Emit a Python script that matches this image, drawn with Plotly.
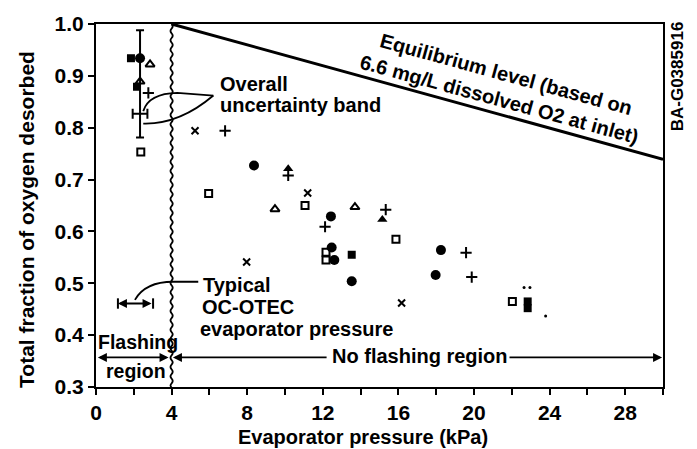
import plotly.graph_objects as go

# ---------------- data ----------------
circle_x = [2.33, 8.36, 12.43, 12.47, 12.61, 13.53, 18.25, 17.97]
circle_y = [0.934, 0.727, 0.629, 0.569, 0.545, 0.504, 0.564, 0.516]
fsquare_x = [1.85, 2.17, 13.53, 22.84, 22.84]
fsquare_y = [0.934, 0.879, 0.555, 0.465, 0.452]
osquare_x = [2.37, 5.96, 11.06, 15.87, 12.17, 12.17, 22.03]
osquare_y = [0.753, 0.673, 0.650, 0.585, 0.560, 0.545, 0.465]
otri_x = [2.86, 2.33, 9.47, 13.70]
otri_y = [0.922, 0.889, 0.643, 0.647]
ftri_x = [10.17, 15.15]
ftri_y = [0.721, 0.623]
plus_x = [2.77, 6.83, 10.17, 12.12, 15.33, 19.58, 19.88]
plus_y = [0.867, 0.794, 0.708, 0.609, 0.642, 0.559, 0.512]
cross_x = [5.24, 11.20, 7.97, 16.17]
cross_y = [0.794, 0.674, 0.541, 0.462]
dot_x = [22.65, 22.96, 23.79]
dot_y = [0.492, 0.492, 0.437]

# overall uncertainty band (error bars)
unc_x = [2.33]
unc_y = [0.827]
unc_plus = [0.161]
unc_minus = [0.046]
unc_dx = [0.39]

# equilibrium level line
equil_x = [4, 30]
equil_y = [1.0, 0.739]

x_ticks = [0, 4, 8, 12, 16, 20, 24, 28]
y_ticks = [0.3, 0.4, 0.5, 0.6, 0.7, 0.8, 0.9, 1.0]

FONT = "Liberation Sans, Arial, Helvetica, sans-serif"
BLK = "black"

fig = go.Figure()

def mk(x, y, symbol, size, lw=0, color=BLK, lc=BLK):
    fig.add_trace(go.Scatter(
        x=x, y=y, mode="markers", showlegend=False, hoverinfo="skip",
        marker=dict(symbol=symbol, size=size, color=color,
                    line=dict(width=lw, color=lc))))

fig.add_trace(go.Scatter(x=equil_x, y=equil_y, mode="lines", showlegend=False,
                         line=dict(color=BLK, width=3), hoverinfo="skip"))

# error bars
fig.add_trace(go.Scatter(
    x=unc_x, y=unc_y, mode="markers", showlegend=False, hoverinfo="skip",
    marker=dict(size=1, color=BLK),
    error_y=dict(type="data", symmetric=False, array=unc_plus, arrayminus=unc_minus,
                 color=BLK, thickness=2, width=4),
    error_x=dict(type="data", array=unc_dx, color=BLK, thickness=2, width=5)))

mk(circle_x, circle_y, "circle", 10)
mk(fsquare_x, fsquare_y, "square", 8)
mk(osquare_x, osquare_y, "square-open", 7, lw=2)
mk(otri_x, otri_y, "triangle-up-open", 8, lw=2)
mk(ftri_x, ftri_y, "triangle-up", 9)
mk(plus_x, plus_y, "cross-thin-open", 8, lw=2)
mk(cross_x, cross_y, "x-thin-open", 7, lw=2)
mk(dot_x, dot_y, "circle", 3)

shapes = []
# wavy vertical line at 4 kPa (decorative boundary)
wave = "M 0,1.0"
yv = 1.0
side = 1
while yv > 0.3 + 1e-9:
    y_mid = yv - 0.0045
    y_end = max(yv - 0.009, 0.3)
    wave += f" Q {2.2*side},{y_mid:.4f} 0,{y_end:.4f}"
    yv = y_end
    side = -side
shapes.append(dict(type="path", xref="x", yref="y", xsizemode="pixel", xanchor=4,
                   path=wave, line=dict(color=BLK, width=1.8)))

# callout for "Overall uncertainty band" (lens shape)
shapes.append(dict(type="path", xref="x", yref="y",
                   path="M 6.21,0.862 L 4.3,0.867 Q 2.8,0.866 2.5,0.832",
                   line=dict(color=BLK, width=1.8)))
shapes.append(dict(type="path", xref="x", yref="y",
                   path="M 6.21,0.862 Q 4.4,0.806 2.5,0.808",
                   line=dict(color=BLK, width=1.8)))
# callout for "Typical OC-OTEC evaporator pressure"
shapes.append(dict(type="path", xref="x", yref="y",
                   path="M 2.06,0.468 Q 2.6,0.503 4.09,0.503 L 5.41,0.503",
                   line=dict(color=BLK, width=1.8)))
# end caps of typical pressure range
for cx in (1.16, 3.02):
    shapes.append(dict(type="line", xref="x", yref="y", x0=cx, x1=cx, y0=0.451, y1=0.471,
                       line=dict(color=BLK, width=2)))

annotations = []

def txt(text, x, y, size=20, xanchor="left", angle=0, xref="x", yref="y"):
    annotations.append(dict(text=text, x=x, y=y, xref=xref, yref=yref, showarrow=False,
                            xanchor=xanchor, yanchor="middle", textangle=angle,
                            font=dict(family=FONT, size=size, color=BLK, weight="bold")))

def arrow(x_head, y_head, x_tail, y_tail, both=False):
    annotations.append(dict(text="", x=x_head, y=y_head, ax=x_tail, ay=y_tail,
                            xref="x", yref="y", axref="x", ayref="y", showarrow=True,
                            arrowhead=2, arrowsize=1, arrowwidth=1.8, arrowcolor=BLK,
                            startarrowhead=2, startarrowsize=1,
                            arrowside="end+start" if both else "end"))

txt("Overall", 6.46, 0.884)
txt("uncertainty band", 6.46, 0.843)
txt("Typical", 5.56, 0.497)
txt("OC-OTEC", 5.50, 0.454)
txt("evaporator pressure", 5.40, 0.412)
txt("Flashing", 2.20, 0.387, size=19.5, xanchor="center")
txt("region", 2.12, 0.330, size=19.5, xanchor="center")
txt("No flashing region", 17.14, 0.359, xanchor="center")
txt("Equilibrium level (based on<br>6.6 mg/L dissolved O2 at inlet)", 21.56, 0.879,
    size=20, xanchor="center", angle=15.3)
txt("BA-G0385916", 1.0247, 0.856, size=17, xanchor="center", angle=-90,
    xref="paper", yref="paper")
# axis titles
txt("Evaporator pressure (kPa)", 0.471, -0.138, size=20, xanchor="center",
    xref="paper", yref="paper")
txt("Total fraction of oxygen desorbed", -0.123, 0.461, size=21, xanchor="center",
    angle=-90, xref="paper", yref="paper")

# arrows
arrow(1.16, 0.461, 3.02, 0.461, both=True)
arrow(0.1, 0.357, 3.92, 0.357, both=True)
arrow(4.07, 0.357, 12.28, 0.357)
arrow(29.95, 0.357, 21.8, 0.357)

fig.update_layout(
    width=697, height=449,
    margin=dict(l=96, r=34, t=18, b=62, pad=0),
    paper_bgcolor="white", plot_bgcolor="white",
    shapes=shapes, annotations=annotations,
    showlegend=False,
    font=dict(family=FONT, size=18, color=BLK, weight="bold"),
)
fig.update_xaxes(range=[0, 30], tickvals=x_ticks, ticks="outside", ticklen=6, tickwidth=1.5,
                 tickcolor=BLK, showline=True, linecolor=BLK, linewidth=2, mirror=True,
                 showgrid=False, zeroline=False,
                 minor=dict(dtick=2, tick0=0, ticks="outside", ticklen=6, tickwidth=1.5,
                            tickcolor=BLK, showgrid=False),
                 tickfont=dict(family=FONT, size=21, color=BLK, weight="bold"))
fig.update_yaxes(range=[0.3, 1.0], tickvals=y_ticks, tickformat=".1f", ticks="outside",
                 ticklen=6, tickwidth=1.5, tickcolor=BLK, showline=True, linecolor=BLK,
                 linewidth=2, mirror=True, showgrid=False, zeroline=False,
                 tickfont=dict(family=FONT, size=21, color=BLK, weight="bold"))

fig.write_html("out.html")
